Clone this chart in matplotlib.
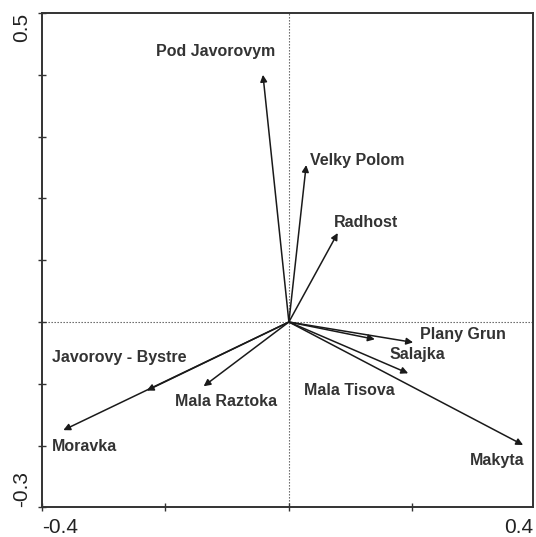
import matplotlib
matplotlib.use("Agg")
import matplotlib.pyplot as plt

# Site vectors (axis 1, axis 2)
sites = ["Pod Javorovym", "Velky Polom", "Radhost", "Plany Grun", "Salajka",
         "Mala Tisova", "Makyta", "Moravka", "Javorovy - Bystre", "Mala Raztoka"]
ax1 = [-0.042, 0.028, 0.079, 0.201, 0.139, 0.193, 0.379, -0.365, -0.230, -0.138]
ax2 = [0.400, 0.254, 0.144, -0.033, -0.028, -0.083, -0.199, -0.175, -0.111, -0.104]

# Label anchor positions
lab_x = [-0.118, 0.110, 0.125, 0.282, 0.208, 0.098, 0.337, -0.330, -0.274, -0.101]
lab_y = [0.437, 0.262, 0.161, -0.021, -0.052, -0.111, -0.224, -0.202, -0.058, -0.129]

xlim = (-0.4, 0.395)
ylim = (-0.3, 0.5)
xticks = [-0.4, -0.2, 0.0, 0.2]
yticks = [-0.3, -0.2, -0.1, 0.0, 0.1, 0.2, 0.3, 0.4, 0.5]

plt.rcParams['font.family'] = ['Liberation Sans', 'DejaVu Sans']

fig = plt.figure(figsize=(5.36, 5.37), dpi=100)
ax = fig.add_axes([0.0778, 0.0551, 0.9944 - 0.0778, 0.9758 - 0.0551])
ax.set_xlim(*xlim)
ax.set_ylim(*ylim)

for s in ax.spines.values():
    s.set_linewidth(1.4)
    s.set_color('#333333')

ax.set_xticks(xticks)
ax.set_yticks(yticks)
ax.tick_params(direction='inout', length=6, width=1, color='#333333',
               labelbottom=False, labelleft=False)

# Zero reference lines
ax.axhline(0, color='#555555', lw=0.8, ls=(0, (1.2, 1.5)), zorder=1)
ax.axvline(0, color='#555555', lw=0.8, ls=(0, (1.2, 1.5)), zorder=1)

for x, y in zip(ax1, ax2):
    ax.annotate('', xy=(x, y), xytext=(0, 0),
                arrowprops=dict(arrowstyle='-|>', mutation_scale=10, lw=1.1,
                                color='#1a1a1a', shrinkA=0, shrinkB=0),
                zorder=3)

for name, x, y in zip(sites, lab_x, lab_y):
    ax.text(x, y, name, ha='center', va='center', fontsize=11.5,
            fontweight='bold', color='#333333')

# Range labels at the ends of each axis
ax.text(0.0, -0.022, '-0.4', transform=ax.transAxes, ha='left', va='top',
        fontsize=15, color='#222222')
ax.text(1.0, -0.022, '0.4', transform=ax.transAxes, ha='right', va='top',
        fontsize=15, color='#222222')
ax.text(-0.022, 1.0, '0.5', transform=ax.transAxes, ha='right', va='top',
        rotation=90, fontsize=15, color='#222222')
ax.text(-0.022, 0.0, '-0.3', transform=ax.transAxes, ha='right', va='bottom',
        rotation=90, fontsize=15, color='#222222')

fig.savefig('out.png', dpi=100, facecolor='white')
